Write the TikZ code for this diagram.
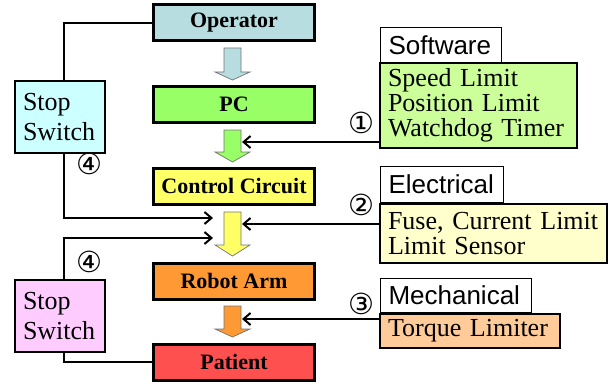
\documentclass[tikz,border=0pt]{standalone}
\usepackage{fontspec}
\setmainfont{Liberation Serif}
\setsansfont{Liberation Sans}
\newfontfamily\circfont{DejaVu Sans}
\usetikzlibrary{arrows.meta}
\definecolor{cOp}{HTML}{B7DDE0}
\definecolor{cPC}{HTML}{99FF66}
\definecolor{cCC}{HTML}{FFFF66}
\definecolor{cRA}{HTML}{FF9933}
\definecolor{cPa}{HTML}{FF5050}
\definecolor{cS1}{HTML}{CCFFFF}
\definecolor{cS2}{HTML}{FFCCFF}
\definecolor{cSw}{HTML}{CCFF99}
\definecolor{cEl}{HTML}{FFFFCC}
\definecolor{cMe}{HTML}{FFCC99}
\newcommand\blkarrow[4]{%
  \draw[blockarr, fill=#4] (224,#1) -- (241,#1) -- (241,#2) -- (250,#2) -- (232.5,#3) -- (215,#2) -- (224,#2) -- cycle;}
\tikzset{
  mainbox/.style={draw, line width=3pt, minimum width=161pt, minimum height=36pt, inner sep=0pt,
    font=\fontsize{22}{22}\selectfont\bfseries},
  stopbox/.style={draw, line width=1.6pt, minimum width=90pt, minimum height=72pt, inner xsep=8pt, inner ysep=0pt,
    text width=74pt, align=left, font=\fontsize{26}{30}\selectfont},
  infobox/.style={draw, line width=1.6pt, inner xsep=8pt, inner ysep=0pt, align=left,
    font=\fontsize{26}{25}\selectfont},
  labelbox/.style={draw, line width=0.8pt, fill=white, inner xsep=8pt, inner ysep=0pt, align=left,
    font=\sffamily\fontsize{26}{26}\selectfont},
  conn/.style={line width=2pt},
  conarr/.style={line width=2pt, -{Straight Barb[length=7pt,width=12pt,line width=2pt]}},
  blockarr/.style={draw=black!55, line width=0.7pt},
  num/.style={inner sep=0pt, font=\circfont\fontsize{29}{29}\selectfont},
}
\begin{document}
\begin{tikzpicture}[x=1pt,y=-1pt]
\useasboundingbox (0,0) rectangle (615,385);
% main chain
\node[mainbox, fill=cOp] (op) at (234,23) {Operator};
\node[mainbox, fill=cPC] (pc) at (234,104.5) {PC};
\node[mainbox, fill=cCC] (cc) at (234,186.5) {Control Circuit};
\node[mainbox, fill=cRA] (ra) at (234,281) {Robot Arm};
\node[mainbox, fill=cPa] (pa) at (234,362) {Patient};
% block arrows
\blkarrow{48}{72}{80}{cOp}
\blkarrow{130}{152}{162}{cPC}
\blkarrow{212}{245}{256}{cCC}
\blkarrow{306}{329}{337}{cRA}
% stop switches
\node[stopbox, fill=cS1] (s1) at (60,117) {Stop\\Switch};
\node[stopbox, fill=cS2] (s2) at (60,316) {Stop\\Switch};
% right side label boxes
\node[labelbox, minimum width=121pt, minimum height=35pt, text width=105pt] (lsw) at (441,45) {Software};
\node[labelbox, minimum width=123pt, minimum height=36pt, text width=107pt] (lel) at (442,184.5) {Electrical};
\node[labelbox, minimum width=151pt, minimum height=34pt, text width=135pt] (lme) at (456,295.5) {Mechanical};
% info boxes
\node[infobox, fill=cSw, minimum width=197pt, minimum height=85pt, text width=181pt] (isw) at (478.5,105.5) {Speed Limit\\Position Limit\\Watchdog Timer};
\node[infobox, fill=cEl, minimum width=227pt, minimum height=59pt, text width=211pt] (iel) at (493.5,233.5) {Fuse, Current Limit\\Limit Sensor};
\node[infobox, fill=cMe, minimum width=180pt, minimum height=34pt, text width=164pt] (ime) at (470,331) {Torque Limiter};
% coordinates for arrow ends
\coordinate (r1) at (242,142);
\coordinate (r2) at (242,224);
\coordinate (r3) at (242,319);
\coordinate (l1) at (213,218);
\coordinate (l2) at (213,238);
% connectors
\draw[conn] (op.west) -| ([xshift=4pt]s1.north);
\draw[conarr] ([xshift=4pt]s1.south) |- (l1);
\draw[conarr] ([xshift=4pt]s2.north) |- (l2);
\draw[conn] ([xshift=4pt]s2.south) |- (pa.west);
\draw[conarr] (isw.west |- r1) -- (r1);
\draw[conarr] (iel.west |- r2) -- (r2);
\draw[conarr] (ime.west |- r3) -- (r3);
% numbers
\node[num] (n1) at (361,123) {①};
\node[num] (n2) at (361,205) {②};
\node[num] (n3) at (361,304) {③};
\node[num] (n4a) at (89,164) {④};
\node[num] (n4b) at (89,262) {④};
\end{tikzpicture}
\end{document}
